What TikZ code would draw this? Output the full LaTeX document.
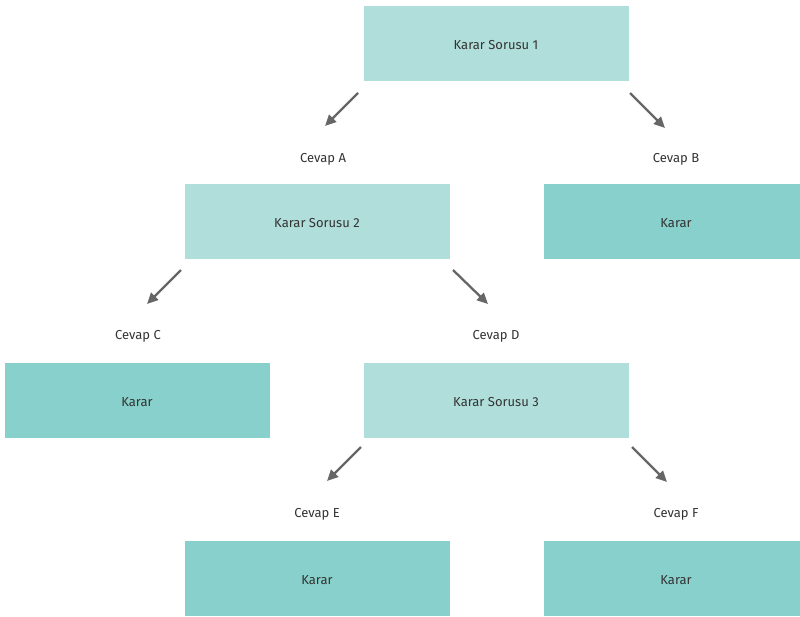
\documentclass[tikz,border=0pt]{standalone}
\usepackage{fontspec}
\setmainfont{Fira Sans}
\usetikzlibrary{arrows.meta}
\definecolor{qbox}{HTML}{B0DEDA}
\definecolor{dbox}{HTML}{88D0CB}
\definecolor{arrowgray}{HTML}{666666}
\definecolor{txt}{HTML}{333333}
\begin{document}
\begin{tikzpicture}[x=1pt,y=-1pt,
  question/.style={fill=qbox,draw=none,minimum width=265pt,minimum height=75pt,inner sep=0pt,text=txt,font=\fontsize{13}{15}\selectfont,text height=12pt,text depth=0pt},
  decision/.style={question,fill=dbox},
  answer/.style={text=txt,font=\fontsize{13}{15}\selectfont,inner sep=0pt},
  branch/.style={draw=arrowgray,line width=2.3pt,-{Triangle[length=11pt,width=10pt]}}]
\path[use as bounding box] (0,0) rectangle (800,616);
\begin{scope}
\clip (0,0) rectangle (800,616);
% question boxes
\node[question] (q1) at (496,43.5) {Karar Sorusu 1};
\node[question] (q2) at (317,221.5) {Karar Sorusu 2};
\node[question] (q3) at (496,400.5) {Karar Sorusu 3};
% decisions
\node[decision] (kb) at (676,221.5) {Karar};
\node[decision] (kc) at (137,400.5) {Karar};
\node[decision] (ke) at (317,578.5) {Karar};
\node[decision] (kf) at (676,578.5) {Karar};
\end{scope}
% answers
\node[answer] (ca) at (323,159.5) {Cevap A};
\node[answer] (cb) at (676,159.5) {Cevap B};
\node[answer] (cc) at (138,336.5) {Cevap C};
\node[answer] (cd) at (496,336.5) {Cevap D};
\node[answer] (ce) at (317,514.5) {Cevap E};
\node[answer] (cf) at (676,514.5) {Cevap F};
% arrow end points
\coordinate (a1) at (358,93);  \coordinate (a2) at (325,126);
\coordinate (b1) at (630,93);  \coordinate (b2) at (665,128);
\coordinate (c1) at (181,270); \coordinate (c2) at (147,304);
\coordinate (d1) at (453,270); \coordinate (d2) at (488,304);
\coordinate (e1) at (361,447); \coordinate (e2) at (327,481);
\coordinate (f1) at (632,447); \coordinate (f2) at (667,482);
\draw[branch] (a1) -- (a2);
\draw[branch] (b1) -- (b2);
\draw[branch] (c1) -- (c2);
\draw[branch] (d1) -- (d2);
\draw[branch] (e1) -- (e2);
\draw[branch] (f1) -- (f2);
\end{tikzpicture}
\end{document}
